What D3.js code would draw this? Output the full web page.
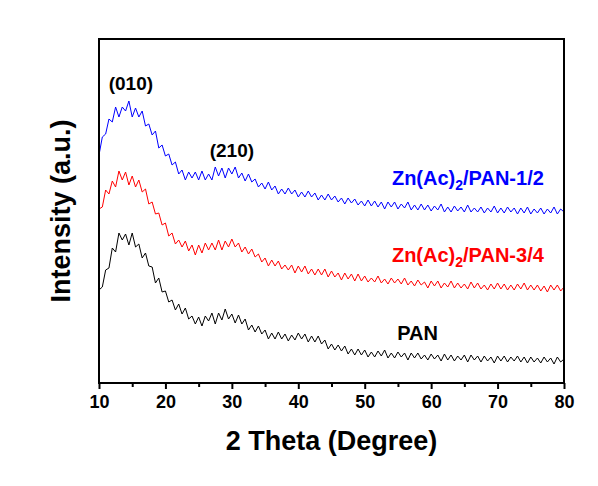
<!DOCTYPE html>
<html>
<head>
<meta charset="utf-8">
<script src="https://cdn.jsdelivr.net/npm/d3@7"></script>
<style>
  body { margin: 0; background: #fff; overflow: hidden; }
  svg { display: block; }
  text { font-family: "Liberation Sans", Arial, sans-serif; font-weight: bold; }
</style>
</head>
<body>
<div class="chart"></div>
<script>
const width = 598
const height = 486

// 2 theta grid: 10 to 80 deg, 0.5 deg step
const twoTheta = d3.range(141).map(i => 10 + i * 0.5)

const pan12 = [
  228, 246, 249, 264, 261, 276, 266, 276, 272, 282, 266, 275, 266, 272, 257, 259, 248, 252, 235, 238,
  227, 229, 218, 221, 209, 213, 203, 211, 205, 211, 203, 212, 203, 209, 203, 216, 207, 215, 205, 215,
  209, 216, 205, 210, 202, 209, 201, 204, 196, 200, 194, 201, 193, 197, 189, 194, 189, 195, 189, 193,
  186, 191, 186, 192, 186, 190, 183, 188, 183, 189, 183, 187, 181, 185, 179, 185, 180, 184, 178, 182,
  177, 183, 177, 182, 176, 181, 174, 181, 176, 181, 174, 179, 175, 181, 173, 178, 173, 179, 173, 178,
  172, 177, 173, 179, 171, 176, 171, 177, 172, 176, 171, 178, 171, 175, 171, 176, 170, 175, 171, 177,
  170, 175, 170, 176, 171, 175, 169, 175, 170, 176, 169, 174, 170, 175, 169, 174, 170, 176, 169, 174,
  171
]

const pan34 = [
  174, 176, 193, 189, 202, 196, 212, 203, 211, 198, 207, 196, 203, 191, 194, 179, 181, 169, 170, 158,
  160, 147, 150, 139, 143, 136, 142, 132, 138, 128, 138, 130, 140, 133, 140, 133, 143, 133, 142, 136,
  144, 136, 140, 131, 136, 129, 134, 126, 129, 121, 125, 117, 123, 117, 122, 114, 118, 113, 118, 110,
  117, 111, 117, 109, 114, 108, 114, 108, 114, 106, 112, 106, 110, 103, 110, 104, 109, 102, 109, 102,
  107, 101, 105, 101, 107, 100, 104, 99, 105, 100, 104, 99, 105, 98, 102, 97, 103, 98, 101, 95,
  102, 97, 102, 95, 100, 96, 102, 95, 100, 95, 99, 94, 101, 95, 100, 94, 98, 93, 99, 94,
  100, 94, 99, 93, 98, 93, 99, 94, 100, 93, 98, 93, 98, 92, 97, 91, 98, 93, 98, 92,
  96
]

const pan = [
  93, 96, 113, 115, 135, 131, 150, 143, 149, 138, 150, 136, 139, 125, 130, 117, 116, 100, 105, 91,
  92, 81, 83, 73, 79, 69, 75, 64, 67, 59, 66, 57, 67, 62, 70, 59, 70, 63, 74, 64,
  69, 60, 68, 59, 64, 53, 58, 51, 57, 49, 53, 44, 50, 44, 51, 44, 49, 42, 48, 43,
  50, 44, 49, 41, 47, 41, 47, 39, 43, 34, 39, 33, 38, 32, 37, 29, 34, 28, 34, 28,
  33, 26, 31, 26, 32, 27, 33, 25, 30, 25, 31, 26, 30, 23, 30, 25, 30, 24, 28, 23,
  29, 24, 28, 22, 29, 23, 28, 22, 27, 23, 28, 21, 28, 23, 27, 21, 27, 22, 26, 20,
  27, 22, 27, 21, 26, 22, 27, 21, 26, 20, 26, 21, 25, 20, 26, 21, 25, 19, 26, 21,
  24
]

const seriesNames = ["PAN", "Zn(Ac)2/PAN-3/4", "Zn(Ac)2/PAN-1/2"]
const seriesColors = ["#000000", "#ff0000", "#0000ff"]
const xTicks = [10, 20, 30, 40, 50, 60, 70, 80]
const xMinorTicks = [15, 25, 35, 45, 55, 65, 75]

const series = [pan, pan34, pan12].map((vals, i) => ({
  name: seriesNames[i],
  color: seriesColors[i],
  values: vals.map((v, j) => ({x: twoTheta[j], y: v}))
}))

const margin = { top: 39, right: 34, left: 99, bottom: 103 }
const innerWidth = width - margin.left - margin.right
const innerHeight = height - margin.top - margin.bottom

const svg = d3.select(".chart")
  .append("svg")
  .attr("width", width)
  .attr("height", height)

const xScale = d3.scaleLinear()
  .domain([10, 80])
  .range([0, innerWidth])

const yScale = d3.scaleLinear()
  .domain([0, 344])
  .range([innerHeight, 0])

const g = svg.append("g")
  .attr("transform", `translate(${margin.left}, ${margin.top})`)

// curves
const line = d3.line()
  .x(d => xScale(d.x))
  .y(d => yScale(d.y))

g.selectAll("path.curve")
  .data(series)
  .enter().append("path")
    .attr("class", "curve")
    .attr("d", d => line(d.values))
    .attr("fill", "none")
    .attr("stroke", d => d.color)
    .attr("stroke-width", 1)
    .attr("stroke-linejoin", "round")

// frame
g.append("rect")
  .attr("width", innerWidth)
  .attr("height", innerHeight)
  .attr("fill", "none")
  .attr("stroke", "#000")
  .attr("stroke-width", 2)

// minor ticks
const minorAxis = g.append("g")
  .attr("transform", `translate(0, ${innerHeight})`)
  .call(d3.axisBottom(xScale).tickValues(xMinorTicks).tickSize(4).tickFormat(""))
minorAxis.select("path.domain").remove()
minorAxis.selectAll("line").attr("stroke-width", 2)

// major ticks + labels
const xAxis = g.append("g")
  .attr("transform", `translate(0, ${innerHeight})`)
  .call(d3.axisBottom(xScale).tickValues(xTicks).tickSize(6).tickPadding(6))
xAxis.select("path.domain").remove()
xAxis.selectAll("line").attr("stroke-width", 2)
xAxis.selectAll("text")
  .attr("fill", "#000")
  .style("font-size", "18px")
  .style("font-family", "'Liberation Sans', Arial, sans-serif")
  .style("font-weight", "bold")

// axis titles
svg.append("text")
  .attr("x", margin.left + innerWidth / 2)
  .attr("y", 450)
  .attr("text-anchor", "middle")
  .style("font-size", "27px")
  .text("2 Theta (Degree)")

svg.append("text")
  .attr("transform", "translate(70, 211) rotate(-90)")
  .attr("text-anchor", "middle")
  .style("font-size", "27px")
  .text("Intensity (a.u.)")

// peak labels
const peaks = [
  {label: "(010)", x: 14.8, y: 293},
  {label: "(210)", x: 30, y: 226}
]
g.selectAll("text.peak")
  .data(peaks)
  .enter().append("text")
    .attr("class", "peak")
    .attr("x", d => xScale(d.x))
    .attr("y", d => yScale(d.y))
    .attr("text-anchor", "middle")
    .style("font-size", "19px")
    .text(d => d.label)

// series labels
const labelPos = [
  {x: 54.9, y: 43},
  {x: 54.1, y: 121},
  {x: 54.1, y: 198}
]
series.forEach((s, i) => {
  const t = g.append("text")
    .attr("x", xScale(labelPos[i].x))
    .attr("y", yScale(labelPos[i].y))
    .attr("fill", s.color)
    .style("font-size", "20px")
  if (s.name.startsWith("Zn")) {
    const rest = s.name.split("2/")[1]
    t.append("tspan").text("Zn(Ac)")
    t.append("tspan").attr("dy", 5).style("font-size", "14px").text("2")
    t.append("tspan").attr("dy", -5).text("/" + rest)
  } else {
    t.text(s.name)
  }
})
</script>
</body>
</html>
